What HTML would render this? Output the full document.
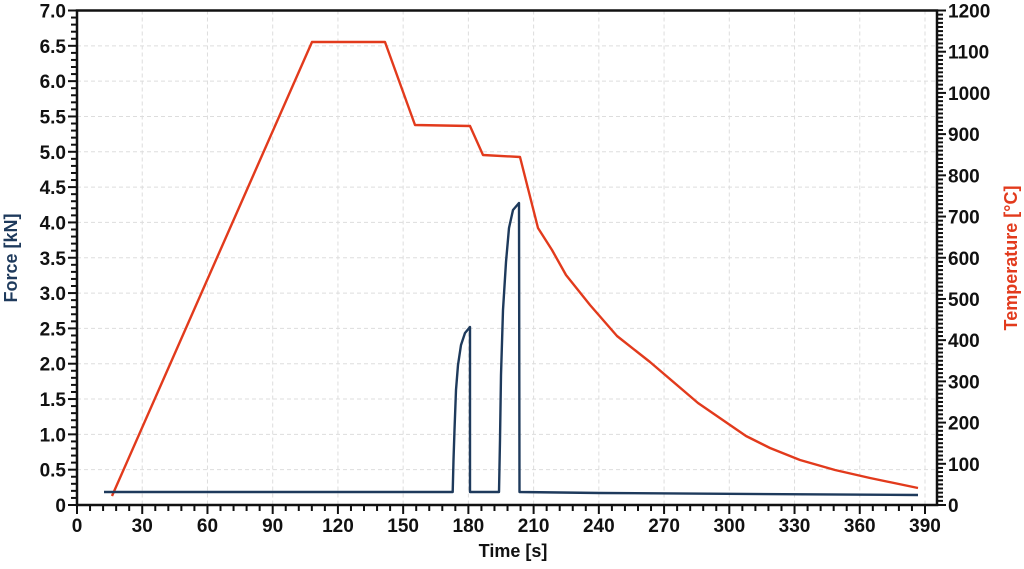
<!DOCTYPE html>
<html><head><meta charset="utf-8"><style>
html,body{margin:0;padding:0;background:#fff;}
svg text{font-family:"Liberation Sans",sans-serif;font-weight:bold;}
</style></head><body>
<svg id="s" width="1024" height="564" xmlns="http://www.w3.org/2000/svg">
<g id="grid"></g>
<g id="ticks"></g>
<polyline fill="none" stroke="#e23a1c" stroke-width="2.4" stroke-linejoin="round" points="112,496 312,42 385,42 415,125 470,126 483,155 520,157 538,228 552,250 566,275 590,305 617,336 650,362 698,403 746,436 770,448 800,460 835,470 870,478 918,488"/>
<polyline fill="none" stroke="#1e3a5c" stroke-width="2.4" stroke-linejoin="round" points="104,492 452.7,492 453.5,460 454.5,430 456,390 458,365 461,345 465,333 470,327 470,492 499,492 500,440 501,375 503,310 506,262 509,228 513,210 519,203 519.5,492 600,493 918,495"/>
<rect x="77" y="10.5" width="860" height="494.5" fill="none" stroke="#111" stroke-width="2.5"/>
<text x="513" y="557" text-anchor="middle" font-size="18" fill="#111">Time [s]</text>
<text transform="translate(17,258) rotate(-90)" text-anchor="middle" font-size="18" fill="#1e3a5c">Force [kN]</text>
<text transform="translate(1017,258) rotate(-90)" text-anchor="middle" font-size="18" fill="#e23a1c">Temperature [°C]</text>
</svg>
<script>
var NS="http://www.w3.org/2000/svg",g=document.getElementById('grid'),t=document.getElementById('ticks');
function el(p,tag,a,txt){var e=document.createElementNS(NS,tag);for(var k in a)e.setAttribute(k,a[k]);if(txt!=null)e.textContent=txt;p.appendChild(e);}
var L=77,R=937,T=10.5,B=505,xs=848/390;
for(var v=0;v<=395;v+=6){var x=L+v*xs;var maj=v%30==0;
 el(t,'line',{x1:x,x2:x,y1:B,y2:B+(maj?9:6),stroke:'#111','stroke-width':2});
 if(maj){el(t,'text',{x:x,y:B+27,'text-anchor':'middle','font-size':19,fill:'#111'},String(v));
 if(v>0)el(g,'line',{x1:x,x2:x,y1:T,y2:B,stroke:'#ddd','stroke-width':1,'stroke-dasharray':'4,3'});}}
for(var i=0;i<=70;i++){var y=B-i*(B-T)/70;var maj=i%5==0;
 el(t,'line',{x1:L,x2:L-(maj?9:6),y1:y,y2:y,stroke:'#111','stroke-width':2});
 if(maj){var lab=i==0?'0':(i/10).toFixed(1);el(t,'text',{x:L-11,y:y+7,'text-anchor':'end','font-size':19,fill:'#111'},lab);
 if(i>0&&i<70)el(g,'line',{x1:L,x2:R,y1:y,y2:y,stroke:'#ddd','stroke-width':1,'stroke-dasharray':'4,3'});}}
for(var i=0;i<=120;i++){var y=B-i*(B-T)/120;var maj=i%10==0;
 el(t,'line',{x1:R,x2:R+(maj?9:6),y1:y,y2:y,stroke:'#111','stroke-width':2});
 if(maj)el(t,'text',{x:R+11,y:y+7,'text-anchor':'start','font-size':19,fill:'#111'},String(i*10));}
</script>
</body></html>
